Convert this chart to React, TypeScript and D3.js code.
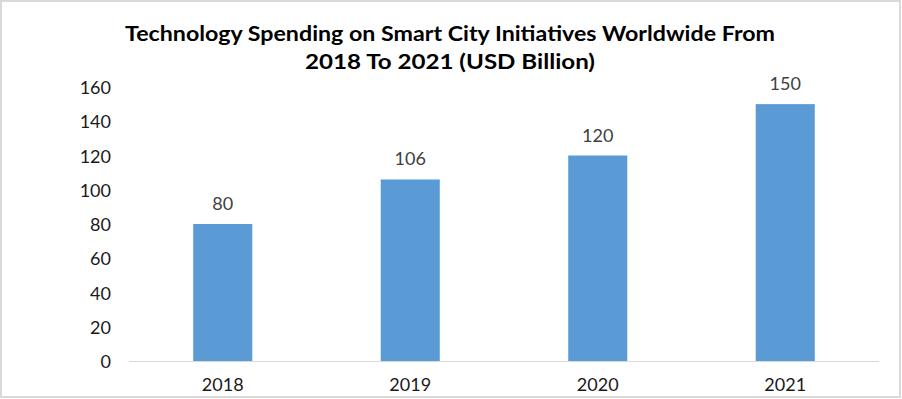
import * as d3 from 'd3';
import { useEffect, useRef } from 'react';

const WIDTH = 902, HEIGHT = 399;

const years = ['2018', '2019', '2020', '2021'];
const spending = [80, 106, 120, 150];
const yTicks = [0, 20, 40, 60, 80, 100, 120, 140, 160];
const titleLines = [
    'Technology Spending on Smart City Initiatives Worldwide From',
    '2018 To 2021 (USD Billion)',
];

const FONT = "Lato, 'Open Sans', 'Noto Sans', sans-serif";

const App = () => {
    const ref = useRef<SVGSVGElement>(null);

    useEffect(() => {
        const svg = d3.select(ref.current);
        svg.selectAll('*').remove();

        const x = d3.scaleBand().domain(years).range([129, 879]).paddingInner(0.685).paddingOuter(0.3425);
        const y = d3.scaleLinear().domain([0, 160]).range([361, 87]);

        svg.append('rect')
            .attr('x', 1).attr('y', 1)
            .attr('width', WIDTH - 3).attr('height', HEIGHT - 3)
            .attr('fill', '#fff')
            .attr('stroke', '#d9d9d9')
            .attr('stroke-width', 2);

        svg.append('g')
            .selectAll('text')
            .data(titleLines)
            .enter()
            .append('text')
            .attr('x', 450)
            .attr('y', (d, i) => 41 + i * 28)
            .attr('text-anchor', 'middle')
            .attr('font-family', FONT)
            .attr('font-weight', 'bold')
            .attr('font-size', 20)
            .attr('fill', '#000')
            .attr('textLength', (d, i) => (i === 0 ? 650 : 290))
            .attr('lengthAdjust', 'spacingAndGlyphs')
            .text((d) => d);

        // y tick labels
        svg.append('g')
            .selectAll('text')
            .data(yTicks)
            .enter()
            .append('text')
            .attr('x', 111)
            .attr('y', (d) => y(d) + 7)
            .attr('text-anchor', 'end')
            .attr('font-family', FONT)
            .attr('font-size', 18)
            .attr('fill', '#1a1a1a')
            .text((d) => d);

        // bars
        svg.append('g')
            .selectAll('rect')
            .data(spending)
            .enter()
            .append('rect')
            .attr('x', (d, i) => x(years[i])!)
            .attr('y', (d) => y(d))
            .attr('width', x.bandwidth())
            .attr('height', (d) => y(0) - y(d))
            .attr('fill', '#5b9bd5');

        // value labels
        svg.append('g')
            .selectAll('text')
            .data(spending)
            .enter()
            .append('text')
            .attr('x', (d, i) => x(years[i])! + x.bandwidth() / 2)
            .attr('y', (d) => y(d) - 14)
            .attr('text-anchor', 'middle')
            .attr('font-family', FONT)
            .attr('font-size', 18)
            .attr('fill', '#404040')
            .text((d) => d);

        // x axis line
        svg.append('line')
            .attr('x1', 129).attr('x2', 879)
            .attr('y1', y(0) + 0.5).attr('y2', y(0) + 0.5)
            .attr('stroke', '#d9d9d9')
            .attr('stroke-width', 1);

        // x labels
        svg.append('g')
            .selectAll('text')
            .data(years)
            .enter()
            .append('text')
            .attr('x', (d) => x(d)! + x.bandwidth() / 2)
            .attr('y', 391)
            .attr('text-anchor', 'middle')
            .attr('font-family', FONT)
            .attr('font-size', 18)
            .attr('fill', '#1a1a1a')
            .text((d) => d);
    }, []);

    return (
        <div style={{ position: 'absolute', left: 0, top: 0 }}>
            <svg ref={ref} width={WIDTH} height={HEIGHT} style={{ display: 'block' }} />
        </div>
    );
};

export default App;
